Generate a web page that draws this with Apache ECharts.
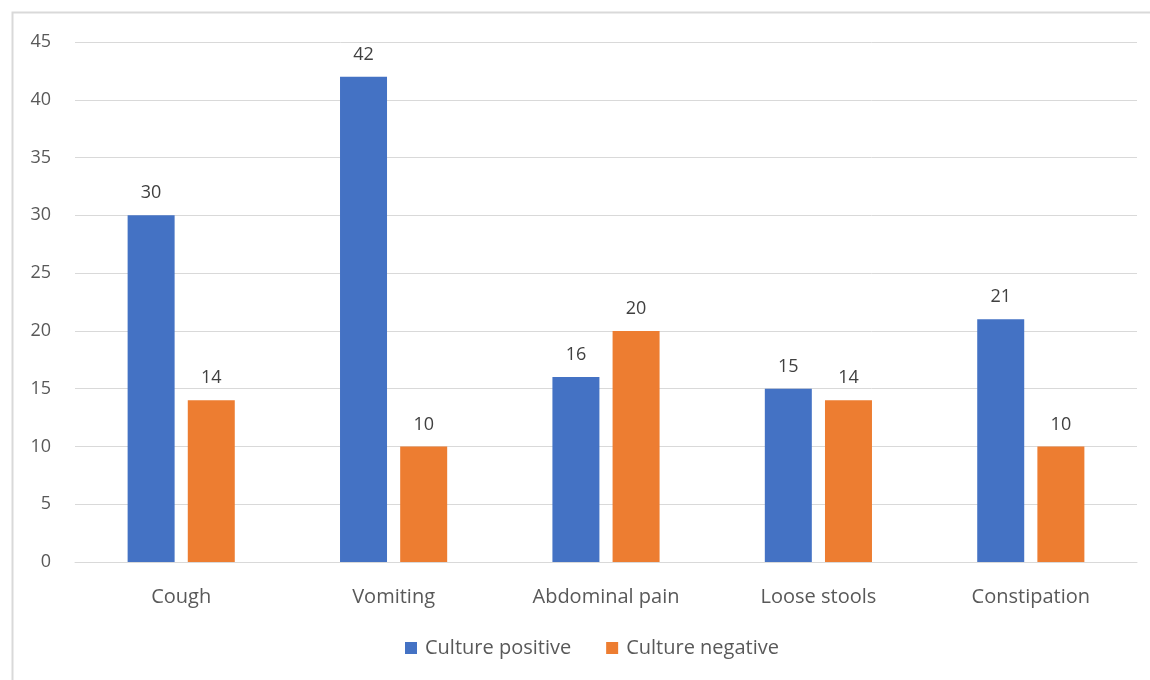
<!DOCTYPE html>
<html>
<head>
<meta charset="utf-8">
<script src="https://cdn.jsdelivr.net/npm/echarts@6/dist/echarts.min.js"></script>
<style>
html,body{margin:0;padding:0;background:#fff;}
#c{width:1150px;height:680px;}
</style>
</head>
<body>
<div id="c"></div>
<script>
const categories = ['Cough', 'Vomiting', 'Abdominal pain', 'Loose stools', 'Constipation'];
const culturePositive = [30, 42, 16, 15, 21];
const cultureNegative = [14, 10, 20, 14, 10];
const seriesNames = ['Culture positive', 'Culture negative'];

const chart = echarts.init(document.getElementById('c'), null, {renderer: 'canvas'});
const font = 'Open Sans, Liberation Sans, sans-serif';
const labelStyle = {show: true, position: 'top', color: '#404040', fontSize: 18, fontFamily: font, distance: 13};
chart.setOption({
  animation: false,
  backgroundColor: '#fff',
  graphic: [{
    type: 'rect', left: 10, top: 10,
    shape: {width: 1200, height: 720},
    style: {fill: 'none', stroke: '#d9d9d9', lineWidth: 2}
  }],
  legend: {
    data: seriesNames,
    bottom: 17,
    left: 400,
    itemWidth: 12, itemHeight: 12, itemGap: 35,
    icon: 'rect',
    textStyle: {color: '#595959', fontSize: 20, fontFamily: font, padding: [0, 0, 0, 3]}
  },
  grid: {left: 75, right: 13, top: 42, bottom: 118, containLabel: false},
  xAxis: {
    type: 'category',
    data: categories,
    axisLine: {lineStyle: {color: '#d9d9d9', width: 1}},
    axisTick: {show: false},
    axisLabel: {color: '#595959', fontSize: 20, fontFamily: font, margin: 25}
  },
  yAxis: {
    type: 'value',
    min: 0, max: 45, interval: 5,
    axisLine: {show: false},
    axisTick: {show: false},
    splitLine: {lineStyle: {color: '#d9d9d9', width: 1}},
    axisLabel: {color: '#595959', fontSize: 18, fontFamily: font, margin: 24}
  },
  series: [
    {name: seriesNames[0], type: 'bar', data: culturePositive, barWidth: 47, barGap: '28%', itemStyle: {color: '#4472c4'}, label: labelStyle},
    {name: seriesNames[1], type: 'bar', data: cultureNegative, barWidth: 47, itemStyle: {color: '#ed7d31'}, label: labelStyle}
  ]
});
</script>
</body>
</html>
